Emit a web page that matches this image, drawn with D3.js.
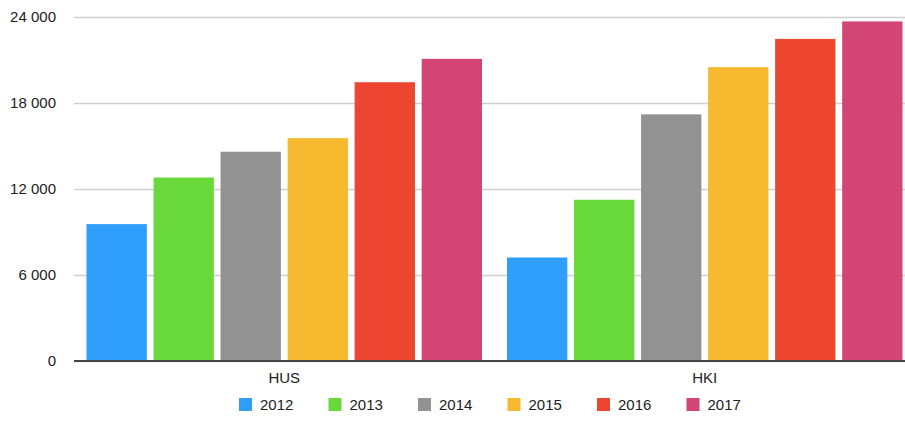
<!DOCTYPE html>
<html>
<head>
<meta charset="utf-8">
<title>HUS / HKI</title>
<script src="https://d3js.org/d3.v7.min.js"></script>
<style>
  body { margin: 0; background: #fff; }
  text { font-family: "Helvetica Neue", Helvetica, "Liberation Sans", Arial, sans-serif; fill: #222; }
</style>
</head>
<body>
<div id="chart"></div>
<script>
var categories = ["HUS", "HKI"];
var years = ["2012", "2013", "2014", "2015", "2016", "2017"];
var valuesHUS = [9550, 12800, 14600, 15550, 19450, 21080];
var valuesHKI = [7220, 11250, 17210, 20500, 22470, 23690];
var yTicks = [0, 6000, 12000, 18000, 24000];
var colors = ["#2f9ffb", "#68d83a", "#929292", "#f6b930", "#ec4530", "#d34575"];

var width = 905, height = 430;
var margin = {top: 17, right: -10, bottom: 69, left: 74};

var svg = d3.select("#chart")
  .append("svg")
  .attr("width", width)
  .attr("height", height);

var table = categories.map(function(c, i) {
  var vals = i === 0 ? valuesHUS : valuesHKI;
  return {cat: c, values: years.map(function(y, j) { return {year: y, value: vals[j]}; })};
});

var x0 = d3.scaleBand()
  .domain(categories)
  .range([margin.left, width - margin.right])
  .padding(0);

var x1 = d3.scaleBand()
  .domain(years)
  .range([12.5, x0.bandwidth() - 12.5])
  .paddingInner(0.1)
  .paddingOuter(0);

var y = d3.scaleLinear()
  .domain([0, 24000])
  .range([height - margin.bottom, margin.top]);

var fmt = function(d) { return d3.format(",")(d).replace(",", " "); };

// grid + labels
var yAxis = svg.append("g")
  .attr("transform", "translate(" + margin.left + ",0)")
  .call(d3.axisLeft(y).tickValues(yTicks).tickSize(-(width - margin.left)).tickFormat(fmt).tickPadding(18));
yAxis.select(".domain").remove();
yAxis.selectAll(".tick line").attr("stroke", "#cfcfcf").attr("stroke-width", 1.5);
yAxis.selectAll(".tick text").style("font-size", "15px").attr("fill", "#222");

// bars
var groups = svg.append("g").selectAll("g")
  .data(table)
  .enter().append("g")
  .attr("transform", function(d) { return "translate(" + x0(d.cat) + ",0)"; });

groups.selectAll("rect")
  .data(function(d) { return d.values; })
  .enter().append("rect")
  .attr("x", function(d) { return x1(d.year); })
  .attr("width", x1.bandwidth())
  .attr("y", function(d) { return y(d.value); })
  .attr("height", function(d) { return y(0) - y(d.value); })
  .attr("fill", function(d, i) { return colors[i]; });

// base line
svg.append("line")
  .attr("x1", margin.left).attr("x2", width)
  .attr("y1", y(0)).attr("y2", y(0))
  .attr("stroke", "#444").attr("stroke-width", 2);

// category labels
svg.append("g").selectAll("text")
  .data(categories)
  .enter().append("text")
  .attr("x", function(d) { return x0(d) + x0.bandwidth() / 2; })
  .attr("y", y(0) + 22)
  .attr("text-anchor", "middle")
  .style("font-size", "15px")
  .text(function(d) { return d; });

// legend
var legend = svg.append("g").selectAll("g")
  .data(years)
  .enter().append("g")
  .attr("transform", function(d, i) { return "translate(" + (239 + i * 89.5) + ",398)"; });

legend.append("rect")
  .attr("width", 13).attr("height", 13)
  .attr("fill", function(d, i) { return colors[i]; });

legend.append("text")
  .attr("x", 21).attr("y", 12)
  .style("font-size", "15px")
  .text(function(d) { return d; });
</script>
</body>
</html>
